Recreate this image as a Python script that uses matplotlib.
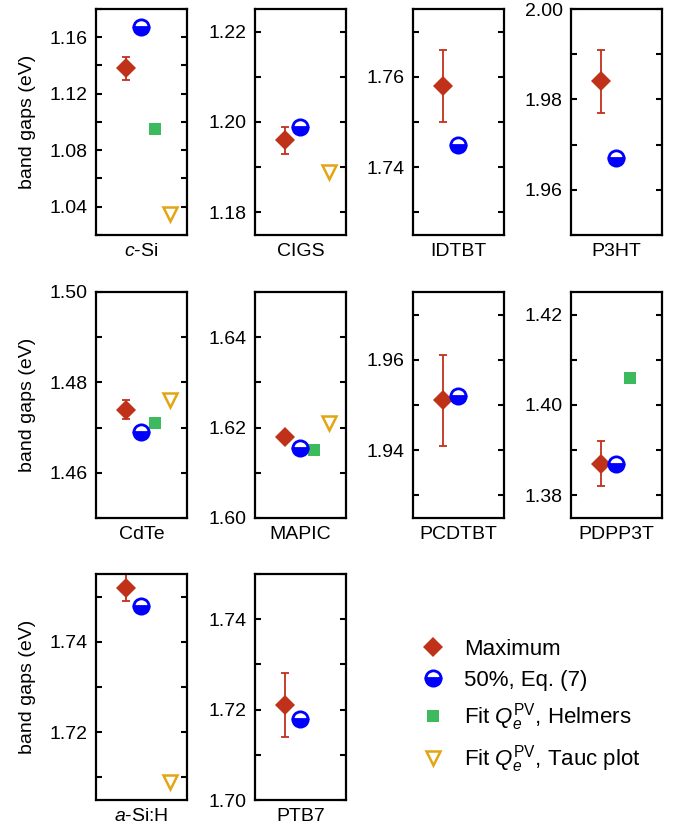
import numpy as np
import matplotlib
matplotlib.use("Agg")
import matplotlib.pyplot as plt
from matplotlib.ticker import MultipleLocator, FormatStrFormatter
from matplotlib.lines import Line2D

plt.rcParams['font.family'] = ['Liberation Sans', 'DejaVu Sans']
plt.rcParams['mathtext.fontset'] = 'custom'
plt.rcParams['mathtext.rm'] = 'Liberation Sans'
plt.rcParams['mathtext.it'] = 'Liberation Sans:italic'
plt.rcParams['font.size'] = 14

nan = np.nan

# data (eV)
materials = ['$c$-Si', 'CIGS', 'IDTBT', 'P3HT', 'CdTe', 'MAPIC',
             'PCDTBT', 'PDPP3T', '$a$-Si:H', 'PTB7']
eg_max = [1.138, 1.196, 1.758, 1.984, 1.474, 1.618, 1.951, 1.387, 1.752, 1.721]
eg_max_err = [0.008, 0.003, 0.008, 0.007, 0.002, 0.0, 0.010, 0.005, 0.003, 0.007]
eg_half = [1.167, 1.199, 1.745, 1.967, 1.469, 1.6155, 1.952, 1.387, 1.748, 1.718]
eg_helmers = [1.095, nan, nan, nan, 1.471, 1.615, nan, 1.406, nan, nan]
eg_tauc = [1.035, 1.189, nan, nan, 1.476, 1.621, nan, nan, 1.709, nan]
ylims = [(1.02, 1.18), (1.175, 1.225), (1.725, 1.775), (1.95, 2.00),
         (1.45, 1.50), (1.60, 1.65), (1.925, 1.975), (1.375, 1.425),
         (1.705, 1.755), (1.70, 1.75)]
label_step = [0.04, 0.02, 0.02, 0.02, 0.02, 0.02, 0.02, 0.02, 0.02, 0.02]

c_max = '#c0311a'
c_half = '#0000ff'
c_helm = '#3dba5e'
c_tauc = '#e3a514'

W, H = 684, 831
fig = plt.figure(figsize=(W / 100, H / 100), dpi=100)

col_left = [96, 255, 413, 571]
row_top = [9, 292, 574]
aw, ah = 91, 226

for i, name in enumerate(materials):
    r, c = divmod(i, 4)
    ax = fig.add_axes([col_left[c] / W, 1 - (row_top[r] + ah) / H, aw / W, ah / H])
    if eg_max_err[i] > 0:
        ax.errorbar([1], [eg_max[i]], yerr=[eg_max_err[i]], fmt='none', ecolor=c_max,
                    elinewidth=1.3, capsize=3, capthick=1.3, zorder=2)
    ax.plot([1], [eg_max[i]], 'D', ms=10, color=c_max, mew=0, zorder=3)
    ax.plot([2], [eg_half[i]], 'o', ms=11, mfc=c_half, mfcalt='white',
            fillstyle='bottom', mec=c_half, mew=2, zorder=4)
    ax.plot([3], [eg_helmers[i]], 's', ms=9, color=c_helm, mew=0)
    ax.plot([4], [eg_tauc[i]], 'v', ms=10, mfc='none', mec=c_tauc, mew=1.8)
    ax.set_xlim(-1.06, 5.19)
    ax.set_ylim(*ylims[i])
    ax.set_xticks([])
    ax.yaxis.set_major_locator(MultipleLocator(label_step[i]))
    ax.yaxis.set_minor_locator(MultipleLocator(label_step[i] / 2))
    ax.yaxis.set_major_formatter(FormatStrFormatter('%.2f'))
    ax.tick_params(axis='y', which='both', direction='in', left=True, right=True,
                   length=4, width=1.5, pad=6, labelsize=14)
    for s in ax.spines.values():
        s.set_linewidth(1.6)
    ax.set_xlabel(name, fontsize=14, labelpad=6)
    if c == 0:
        ax.set_ylabel('band gaps (eV)', fontsize=14, labelpad=10)

handles = [
    Line2D([], [], ls='none', marker='D', ms=10, color=c_max, mew=0),
    Line2D([], [], ls='none', marker='o', ms=11, mfc=c_half, mfcalt='white',
           fillstyle='bottom', mec=c_half, mew=2),
    Line2D([], [], ls='none', marker='s', ms=9, color=c_helm, mew=0),
    Line2D([], [], ls='none', marker='v', ms=10, mfc='none', mec=c_tauc, mew=1.8),
]
labels = ['Maximum', '50%, Eq. (7)', r'Fit $Q_e^{\mathrm{PV}}$, Helmers',
          r'Fit $Q_e^{\mathrm{PV}}$, Tauc plot']
fig.legend(handles, labels, loc='upper left', bbox_to_anchor=(422 / W, 1 - 639 / H),
           frameon=False, fontsize=16, handlelength=1.0, handletextpad=0.9,
           labelspacing=0.45, borderaxespad=0, borderpad=0)

fig.savefig('out.png', dpi=100)
